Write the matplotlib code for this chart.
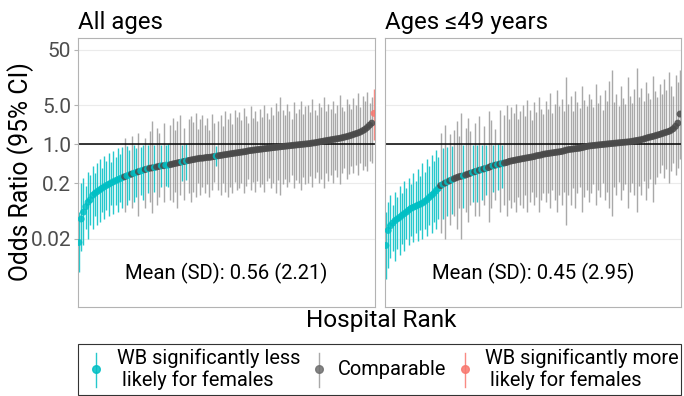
import numpy as np
import matplotlib
matplotlib.use('Agg')
import matplotlib.pyplot as plt
from matplotlib.patches import Rectangle
from matplotlib.lines import Line2D
from matplotlib.ticker import NullLocator

plt.rcParams['font.family'] = ['Roboto', 'DejaVu Sans']

# ---- datos: odds ratio por hospital (ordenados por rango) ----
# Todas las edades
est1 = [0.017, 0.045, 0.06, 0.075, 0.09, 0.10, 0.12, 0.13, 0.14, 0.15,
        0.16, 0.17, 0.18, 0.19, 0.20, 0.21, 0.22, 0.23, 0.24, 0.25,
        0.26, 0.27, 0.28, 0.29, 0.30, 0.31, 0.32, 0.33, 0.34, 0.35,
        0.36, 0.37, 0.375, 0.38, 0.39, 0.40, 0.41, 0.41, 0.42, 0.42,
        0.43, 0.44, 0.45, 0.46, 0.47, 0.48, 0.49, 0.50, 0.51, 0.52,
        0.53, 0.54, 0.55, 0.56, 0.56, 0.57, 0.58, 0.58, 0.59, 0.60,
        0.61, 0.62, 0.63, 0.64, 0.65, 0.66, 0.67, 0.68, 0.69, 0.70,
        0.71, 0.72, 0.73, 0.74, 0.76, 0.77, 0.78, 0.79, 0.80, 0.81,
        0.82, 0.83, 0.84, 0.85, 0.86, 0.87, 0.88, 0.89, 0.90, 0.91,
        0.92, 0.93, 0.94, 0.95, 0.96, 0.97, 0.98, 0.99, 1.00, 1.01,
        1.02, 1.03, 1.05, 1.06, 1.08, 1.10, 1.12, 1.14, 1.16, 1.18,
        1.20, 1.22, 1.24, 1.26, 1.28, 1.31, 1.34, 1.37, 1.41, 1.45,
        1.50, 1.55, 1.60, 1.66, 1.75, 1.85, 2.00, 2.20, 2.40, 3.60]
lo1 = [0.005, 0.012, 0.015, 0.03, 0.02, 0.035, 0.03, 0.05, 0.035, 0.04,
       0.06, 0.045, 0.065, 0.05, 0.08, 0.055, 0.08, 0.06, 0.09, 0.07,
       0.06, 0.08, 0.10, 0.07, 0.09, 0.11, 0.05, 0.12, 0.10, 0.07,
       0.13, 0.09, 0.058, 0.14, 0.08, 0.11, 0.17, 0.09, 0.18, 0.17,
       0.10, 0.09, 0.14, 0.07, 0.12, 0.22, 0.10, 0.23, 0.13, 0.09,
       0.14, 0.11, 0.20, 0.12, 0.17, 0.13, 0.19, 0.11, 0.15, 0.21,
       0.40, 0.15, 0.12, 0.20, 0.14, 0.11, 0.17, 0.13, 0.21, 0.15,
       0.16, 0.20, 0.13, 0.18, 0.24, 0.15, 0.21, 0.14, 0.22, 0.17,
       0.19, 0.14, 0.22, 0.25, 0.16, 0.20, 0.13, 0.23, 0.12, 0.19,
       0.24, 0.17, 0.21, 0.28, 0.16, 0.23, 0.20, 0.15, 0.26, 0.19,
       0.20, 0.27, 0.17, 0.25, 0.31, 0.20, 0.24, 0.16, 0.30, 0.22,
       0.28, 0.20, 0.34, 0.26, 0.19, 0.30, 0.38, 0.24, 0.29, 0.40,
       0.30, 0.42, 0.28, 0.45, 0.35, 0.40, 0.33, 0.50, 0.45, 1.20]
hi1 = [0.06, 0.20, 0.25, 0.18, 0.32, 0.28, 0.40, 0.30, 0.45, 0.55,
       0.38, 0.62, 0.50, 0.70, 0.48, 0.75, 0.60, 0.85, 0.66, 0.90,
       1.3, 0.92, 0.80, 1.4, 0.95, 0.85, 1.6, 0.90, 0.97, 1.3,
       0.95, 1.7, 2.6, 0.97, 2.0, 1.6, 0.98, 2.4, 0.96, 0.99,
       2.2, 3.0, 1.8, 2.6, 3.4, 0.97, 2.0, 0.99, 2.8, 3.2,
       2.5, 3.6, 1.9, 2.8, 3.3, 2.2, 3.0, 1.8, 3.5, 2.4,
       0.93, 2.6, 3.4, 2.1, 4.0, 2.9, 3.6, 2.3, 4.2, 3.1,
       3.8, 2.7, 4.5, 3.2, 2.4, 4.9, 3.0, 3.9, 2.6, 4.3,
       3.1, 5.0, 3.6, 2.8, 4.6, 3.3, 5.5, 3.9, 7.0, 4.1,
       3.4, 5.2, 4.0, 2.9, 5.8, 3.7, 4.4, 6.1, 3.5, 4.8,
       5.0, 3.8, 6.4, 4.2, 3.3, 5.6, 4.7, 7.2, 3.9, 5.3,
       4.4, 6.0, 3.7, 5.1, 7.8, 4.6, 3.9, 6.5, 5.2, 4.3,
       6.8, 5.0, 8.5, 4.6, 7.3, 6.0, 8.8, 5.5, 7.0, 10.0]
# rangos con WB significativamente menor / mayor en mujeres
less1 = [1, 2, 3, 4, 5, 6, 7, 8, 9, 10, 11, 12, 13, 14, 15, 16, 17, 18, 19, 20,
         22, 23, 25, 26, 28, 29, 31, 34, 37, 39, 40, 46, 48, 61]
more1 = [130]

# Edades <=49
est2 = [0.015, 0.028, 0.034, 0.038, 0.042, 0.045, 0.048, 0.052, 0.056, 0.060,
        0.065, 0.070, 0.073, 0.076, 0.080, 0.083, 0.087, 0.093, 0.100, 0.110,
        0.12, 0.13, 0.145, 0.16, 0.18, 0.19, 0.20, 0.21, 0.22, 0.23,
        0.24, 0.25, 0.26, 0.265, 0.27, 0.28, 0.29, 0.30, 0.31, 0.32,
        0.33, 0.34, 0.35, 0.36, 0.37, 0.38, 0.40, 0.41, 0.42, 0.43,
        0.44, 0.45, 0.46, 0.47, 0.49, 0.50, 0.51, 0.52, 0.53, 0.54,
        0.55, 0.56, 0.57, 0.58, 0.59, 0.60, 0.62, 0.63, 0.64, 0.66,
        0.67, 0.68, 0.69, 0.70, 0.71, 0.72, 0.73, 0.74, 0.76, 0.78,
        0.80, 0.81, 0.82, 0.83, 0.84, 0.85, 0.87, 0.89, 0.91, 0.93,
        0.94, 0.95, 0.96, 0.97, 0.98, 0.99, 1.00, 1.01, 1.02, 1.03,
        1.04, 1.05, 1.06, 1.07, 1.08, 1.09, 1.10, 1.11, 1.13, 1.15,
        1.17, 1.19, 1.21, 1.24, 1.28, 1.32, 1.35, 1.38, 1.42, 1.46,
        1.50, 1.55, 1.60, 1.65, 1.70, 1.78, 1.90, 2.10, 2.40, 3.50]
lo2 = [0.0037, 0.006, 0.009, 0.012, 0.008, 0.013, 0.010, 0.016, 0.012, 0.020,
       0.015, 0.022, 0.017, 0.025, 0.018, 0.028, 0.020, 0.030, 0.022, 0.035,
       0.025, 0.040, 0.030, 0.045, 0.025, 0.045, 0.020, 0.050, 0.035, 0.055,
       0.05, 0.03, 0.07, 0.02, 0.07, 0.06, 0.04, 0.08, 0.09, 0.05,
       0.09, 0.05, 0.10, 0.08, 0.12, 0.04, 0.07, 0.14, 0.10, 0.15,
       0.06, 0.16, 0.08, 0.05, 0.10, 0.07, 0.09, 0.06, 0.11, 0.08,
       0.07, 0.12, 0.06, 0.09, 0.14, 0.08, 0.11, 0.06, 0.10, 0.13,
       0.09, 0.13, 0.07, 0.15, 0.10, 0.06, 0.12, 0.08, 0.14, 0.035,
       0.12, 0.08, 0.16, 0.07, 0.13, 0.17, 0.06, 0.11, 0.15, 0.09,
       0.13, 0.19, 0.08, 0.15, 0.11, 0.20, 0.10, 0.14, 0.07, 0.05,
       0.17, 0.12, 0.21, 0.10, 0.15, 0.19, 0.07, 0.14, 0.20, 0.12,
       0.06, 0.18, 0.12, 0.22, 0.10, 0.16, 0.24, 0.09, 0.19, 0.26,
       0.30, 0.42, 0.25, 0.36, 0.20, 0.33, 0.45, 0.28, 0.38, 0.55]
hi2 = [0.06, 0.09, 0.12, 0.08, 0.14, 0.11, 0.18, 0.13, 0.22, 0.16,
       0.25, 0.19, 0.30, 0.22, 0.36, 0.27, 0.45, 0.32, 0.55, 0.40,
       0.65, 0.50, 0.78, 0.60, 1.6, 0.85, 2.2, 0.90, 1.5, 0.92,
       1.8, 2.6, 1.4, 3.6, 0.95, 2.0, 3.0, 1.7, 0.97, 2.4,
       0.96, 3.2, 0.98, 2.1, 0.95, 3.9, 2.7, 0.97, 1.9, 0.99,
       4.2, 0.98, 3.3, 5.1, 2.8, 4.6, 3.6, 5.4, 2.9, 4.0,
       5.0, 3.2, 6.3, 4.1, 2.7, 5.7, 3.8, 7.0, 4.4, 3.5,
       6.0, 4.3, 8.5, 3.6, 5.4, 9.5, 4.8, 6.6, 3.9, 16.0,
       5.2, 7.4, 4.0, 9.0, 5.8, 4.5, 11.0, 6.2, 4.8, 8.0,
       6.5, 4.6, 12.0, 5.5, 7.8, 4.2, 9.5, 6.0, 14.0, 22.0,
       5.8, 8.2, 4.9, 11.0, 6.7, 5.2, 16.0, 7.5, 5.6, 9.8,
       24.0, 7.0, 10.5, 6.0, 13.0, 8.4, 6.5, 17.0, 9.0, 7.2,
       12.0, 8.0, 15.0, 9.5, 20.0, 11.0, 7.5, 18.0, 13.0, 22.0]
less2 = [1, 2, 3, 4, 5, 6, 7, 8, 9, 10, 11, 12, 13, 14, 15, 16, 17, 18, 19, 20,
         21, 22, 23, 24, 26, 28, 30, 35, 39, 41, 43, 45, 48, 50, 52]
more2 = []

titulos = ["All ages", "Ages \u226449 years"]
notas = ["Mean (SD): 0.56 (2.21)", "Mean (SD): 0.45 (2.95)"]
yticks = [50, 5, 1, 0.2, 0.02]
yticklab = ["50", "5.0", "1.0", "0.2", "0.02"]
leg_lab = ["WB significantly less\n likely for females", "Comparable",
           "WB significantly more\n likely for females"]

CIAN = '#00BFC4'
ROJO = '#F8766D'
GRIS_BARRA = '#9A9A9A'
GRIS_PUNTO = '#4A4A4A'

W, H = 684, 396
def fx(px):
    return px / W
def fy(py):
    return 1 - py / H

fig = plt.figure(figsize=(W / 100, H / 100), dpi=100)
ax1 = fig.add_axes([fx(78), fy(307), (375 - 78) / W, (307 - 38) / H])
ax2 = fig.add_axes([fx(385), fy(307), (681 - 385) / W, (307 - 38) / H])


def panel(ax, est, lo, hi, less, more, titulo, nota, etiquetas):
    n = len(est)
    rango = np.arange(1, n + 1)
    col_b = [GRIS_BARRA] * n
    col_p = [GRIS_PUNTO] * n
    for r in less:
        col_b[r - 1] = CIAN
        col_p[r - 1] = CIAN
    for r in more:
        col_b[r - 1] = ROJO
        col_p[r - 1] = ROJO
    ax.vlines(rango, lo, hi, colors=col_b, lw=1.0, alpha=0.85, zorder=2)
    ax.axhline(1, color='black', lw=1.1, zorder=2.5)
    ax.scatter(rango, est, c=col_p, s=25, alpha=0.85, linewidths=0, zorder=3)
    ax.set_yscale('log')
    ax.set_ylim(0.00117, 82)
    ax.set_xlim(0.6, n + 0.4)
    ax.set_yticks(yticks)
    ax.yaxis.set_minor_locator(NullLocator())
    if etiquetas:
        ax.set_yticklabels(yticklab)
        ax.tick_params(axis='y', length=3, color='#B3B3B3', labelsize=15,
                       labelcolor='#4D4D4D', pad=2)
    else:
        ax.set_yticklabels([])
        ax.tick_params(axis='y', length=0)
    ax.set_xticks([])
    ax.grid(axis='y', color='#EBEBEB', lw=0.8)
    ax.set_axisbelow(True)
    for s in ax.spines.values():
        s.set_color('#B3B3B3')
        s.set_linewidth(0.8)
    ax.text(0.0, 1 + 9 / 269, titulo, transform=ax.transAxes,
            fontsize=17.3, va='baseline', ha='left')
    ax.text(0.5, 0.126, nota, transform=ax.transAxes, fontsize=14.6,
            ha='center', va='center')


panel(ax1, est1, lo1, hi1, less1, more1, titulos[0], notas[0], True)
panel(ax2, est2, lo2, hi2, less2, more2, titulos[1], notas[1], False)

fig.text(fx(21), fy(172), "Odds Ratio (95% CI)", rotation=90,
         ha='center', va='center', fontsize=17.8)
fig.text(fx(381), fy(321), "Hospital Rank", ha='center', va='center',
         fontsize=17.6)

# leyenda dibujada a mano
fig.add_artist(Rectangle((fx(78), fy(395)), (681 - 78) / W, (395 - 344) / H,
                         transform=fig.transFigure, fill=False,
                         edgecolor='#333333', lw=0.8))
glifos = [(96, CIAN, CIAN, 117), (319, GRIS_BARRA, '#6E6E6E', 338),
          (465, ROJO, ROJO, 485)]
for (xg, cb, cp, xt), lab in zip(glifos, leg_lab):
    fig.add_artist(Line2D([fx(xg), fx(xg)], [fy(353), fy(387)],
                          transform=fig.transFigure, color=cb, lw=1.0,
                          alpha=0.85))
    fig.add_artist(Line2D([fx(xg)], [fy(369)], transform=fig.transFigure,
                          marker='o', ms=5.5, color=cp, alpha=0.85, lw=0))
    fig.text(fx(xt), fy(369.5), lab, ha='left', va='center', fontsize=14.4,
             linespacing=1.15)

fig.savefig('out.png', dpi=100)
